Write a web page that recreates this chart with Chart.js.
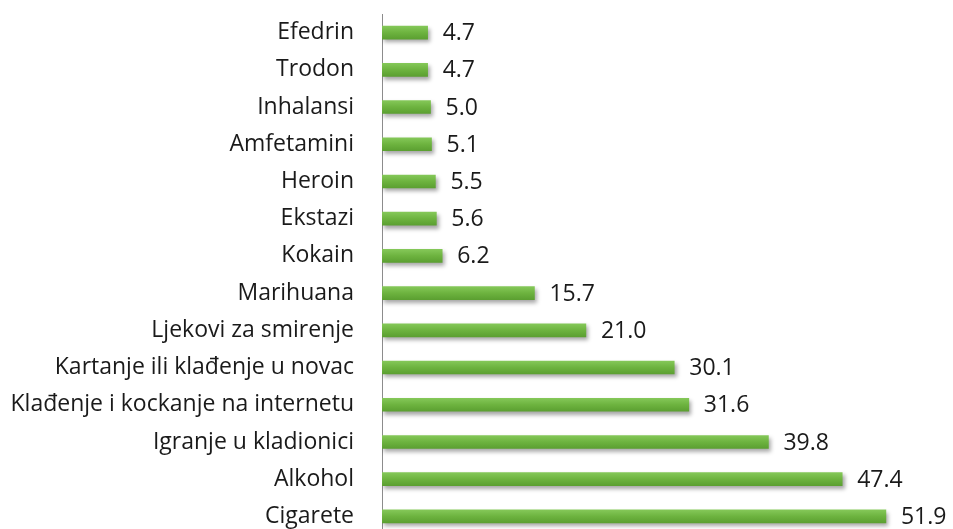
<!DOCTYPE html>
<html><head><meta charset="utf-8">
<script src="https://cdn.jsdelivr.net/npm/chart.js@4/dist/chart.umd.min.js"></script>
<style>
html,body{margin:0;padding:0;background:#fff;overflow:hidden;}
#wrap{width:953px;height:537px;position:relative;}
</style></head><body>
<div id="wrap"><canvas id="c"></canvas></div>
<script>
const categories = ["Efedrin","Trodon","Inhalansi","Amfetamini","Heroin","Ekstazi","Kokain","Marihuana","Ljekovi za smirenje","Kartanje ili klađenje u novac","Klađenje i kockanje na internetu","Igranje u kladionici","Alkohol","Cigarete"];
const values = [4.7,4.7,5.0,5.1,5.5,5.6,6.2,15.7,21.0,30.1,31.6,39.8,47.4,51.9];

const shadowPlugin = {
  id:'shadow',
  beforeDatasetsDraw(chart){const c=chart.ctx;c.save();c.shadowColor='rgba(0,0,0,0.35)';c.shadowBlur=4;c.shadowOffsetX=2;c.shadowOffsetY=3;},
  afterDatasetsDraw(chart){chart.ctx.restore();}
};
const labelPlugin = {
  id:'vals',
  afterDatasetsDraw(chart){
    const c=chart.ctx; const meta=chart.getDatasetMeta(0);
    c.save(); c.fillStyle='#1a1a1a'; c.font='23px "Open Sans"'; c.textBaseline='middle'; c.textAlign='left';
    meta.data.forEach((b,i)=>{ c.fillText(values[i].toFixed(1), b.x+15, b.y+1); });
    c.restore();
  }
};
new Chart(document.getElementById('c'),{
  type:'bar',
  data:{labels:categories,datasets:[{data:values,
    backgroundColor:(ctx)=>{const ch=ctx.chart; const ys=ch.scales&&ch.scales.y; if(!ys) return '#6db33f';
      const y=ys.getPixelForValue(ctx.dataIndex); if(!isFinite(y)) return '#6db33f';
      const g=ch.ctx.createLinearGradient(0,y-7,0,y+7); g.addColorStop(0,'#86c95a'); g.addColorStop(0.5,'#6db33f'); g.addColorStop(1,'#5a9e30'); return g;},
    barThickness:13, borderWidth:0}]},
  options:{
    indexAxis:'y', responsive:true, maintainAspectRatio:false, animation:false,
    layout:{padding:{top:14,bottom:2,left:0,right:37}},
    plugins:{legend:{display:false},tooltip:{enabled:false}},
    scales:{
      x:{min:0,max:55,display:false,grid:{display:false}},
      y:{grid:{display:false,drawTicks:false},border:{display:true,color:'#8c8c8c',width:1},
         ticks:{color:'#1a1a1a',font:{family:'"Open Sans"',size:23},padding:28},
         afterFit(s){s.width=382;s.paddingTop=0;s.paddingBottom=0;}}
    }
  },
  plugins:[shadowPlugin,labelPlugin]
});
</script></body></html>
